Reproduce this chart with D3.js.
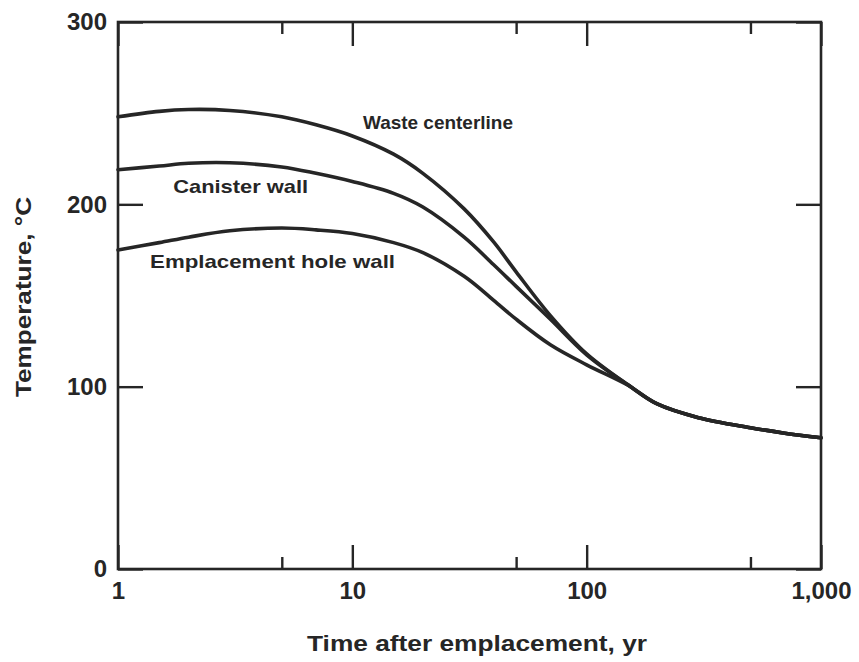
<!DOCTYPE html>
<html>
<head>
<meta charset="utf-8">
<script src="https://cdn.jsdelivr.net/npm/d3@7/dist/d3.min.js"></script>
<style>
  html, body { margin: 0; padding: 0; background: #fff; }
  svg text { font-family: "Liberation Sans", Arial, Helvetica, sans-serif; font-weight: bold; fill: #262626; }
</style>
</head>
<body>
<svg id="chart" width="859" height="662"></svg>
<script>
// Time after emplacement (years) at which temperatures are given
const years = [1, 1.5, 2, 3, 5, 7, 10, 15, 20, 30, 40, 50, 70, 100, 150, 200, 300, 500, 700, 1000];

// Temperatures (°C)
const wasteCenterline   = [248, 251, 252, 251.5, 248, 243.6, 237.5, 227.5, 217, 197.5, 179.5, 163, 139, 118, 101, 90.5, 83, 77.5, 74.5, 72];
const canisterWall      = [219, 221, 222.5, 222.8, 220.5, 217, 212.5, 206, 198.5, 182, 167, 155, 137, 117.5, 101, 90.5, 83, 77.5, 74.5, 72];
const emplacementHole   = [175, 179, 182, 185.5, 187, 186, 184, 179, 173.5, 160.5, 147.5, 137, 123, 112, 100.8, 90.5, 83, 77.5, 74.5, 72];

const seriesNames = ["Waste centerline", "Canister wall", "Emplacement hole wall"];
const seriesValues = [wasteCenterline, canisterWall, emplacementHole];
// label anchor points (year, °C) for the curve names
const labelYears = [11.1, 1.72, 1.37];
const labelTemps = [241.4, 206, 165];

const xMajorTicks = [1, 10, 100, 1000];
const xMinorTicks = [5, 50, 500];
const xTickLabels = ["1", "10", "100", "1,000"];
const yTicks = [0, 100, 200, 300];

const xTitle = "Time after emplacement, yr";
const yTitle = "Temperature, °C";

// set widths of the curve names (px)
const labelWidths = [150, 135, 245];

const svg = d3.select("#chart");
const ink = "#262626";

const x = d3.scaleLog().domain([1, 1000]).range([118, 821]);
const y = d3.scaleLinear().domain([0, 300]).range([569, 22]);

// Frame
svg.append("rect")
  .attr("x", x.range()[0]).attr("y", y.range()[1])
  .attr("width", x.range()[1] - x.range()[0])
  .attr("height", y.range()[0] - y.range()[1])
  .attr("fill", "none").attr("stroke", ink).attr("stroke-width", 2.6);

function styleAxis(g) {
  g.select(".domain").remove();
  g.selectAll(".tick line").attr("stroke", ink).attr("stroke-width", 2.4);
  g.selectAll(".tick text").attr("fill", ink).attr("font-size", 24)
    .attr("font-family", "'Liberation Sans', Arial, sans-serif").attr("font-weight", "bold");
}

// Bottom axis: major ticks with labels, minor ticks without
svg.append("g").attr("transform", `translate(0,${y(0)})`)
  .call(d3.axisBottom(x).tickValues(xMajorTicks).tickSize(-24).tickPadding(13)
    .tickFormat((d, i) => xTickLabels[i]))
  .call(styleAxis);
svg.append("g").attr("transform", `translate(0,${y(0)})`)
  .call(d3.axisBottom(x).tickValues(xMinorTicks).tickSize(-12).tickFormat(""))
  .call(styleAxis);

// Top axis ticks
svg.append("g").attr("transform", `translate(0,${y(300)})`)
  .call(d3.axisTop(x).tickValues(xMajorTicks).tickSize(-24).tickFormat(""))
  .call(styleAxis);
svg.append("g").attr("transform", `translate(0,${y(300)})`)
  .call(d3.axisTop(x).tickValues(xMinorTicks).tickSize(-12).tickFormat(""))
  .call(styleAxis);

// Left axis
svg.append("g").attr("transform", `translate(${x(1)},0)`)
  .call(d3.axisLeft(y).tickValues(yTicks).tickSize(-25).tickPadding(11).tickFormat(d3.format("d")))
  .call(styleAxis);

// Right axis ticks
svg.append("g").attr("transform", `translate(${x(1000)},0)`)
  .call(d3.axisRight(y).tickValues(yTicks).tickSize(-25).tickFormat(""))
  .call(styleAxis);

// Curves
const line = d3.line()
  .x((d, i) => x(years[i]))
  .y(d => y(d))
  .curve(d3.curveCatmullRom.alpha(0.5));

svg.append("g").selectAll("path")
  .data(seriesValues)
  .join("path")
  .attr("d", d => line(d))
  .attr("fill", "none")
  .attr("stroke", ink)
  .attr("stroke-width", 3.6)
  .attr("stroke-linejoin", "round")
  .attr("stroke-linecap", "round");

// Curve names
svg.append("g").selectAll("text")
  .data(seriesNames)
  .join("text")
  .attr("x", (d, i) => x(labelYears[i]))
  .attr("y", (d, i) => y(labelTemps[i]))
  .attr("font-size", 19)
  .attr("textLength", (d, i) => labelWidths[i])
  .attr("lengthAdjust", "spacingAndGlyphs")
  .text(d => d);

// Axis titles
svg.append("text")
  .attr("x", 477).attr("y", 651)
  .attr("text-anchor", "middle")
  .attr("font-size", 22)
  .attr("textLength", 340)
  .attr("lengthAdjust", "spacingAndGlyphs")
  .text(xTitle);

svg.append("text")
  .attr("transform", "translate(31,297) rotate(-90)")
  .attr("text-anchor", "middle")
  .attr("font-size", 22)
  .attr("textLength", 200)
  .attr("lengthAdjust", "spacingAndGlyphs")
  .text(yTitle);
</script>
</body>
</html>
